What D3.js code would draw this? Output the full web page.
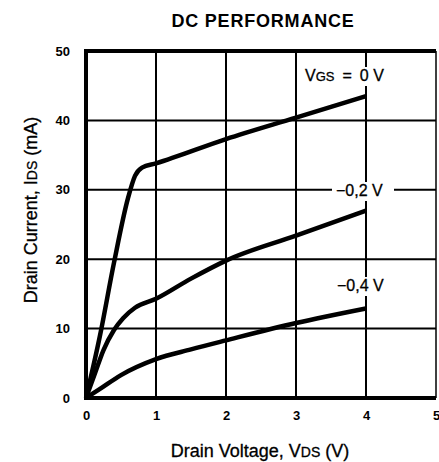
<!DOCTYPE html>
<html>
<head>
<meta charset="utf-8">
<script src="https://cdn.jsdelivr.net/npm/d3@7"></script>
<style>
  body { margin: 0; background: #fff; }
  text { font-family: "Liberation Sans", Arial, sans-serif; fill: #000; }
</style>
</head>
<body>
<div id="chart"></div>
<script>
let width = 439, height = 462;

// curves: [Vds (V), Ids (mA)]
let vgs0 = [[0, 0], [0.2, 9], [0.4, 19.5], [0.6, 28.8], [0.7, 32], [0.8, 33.2], [1, 33.8], [2, 37.3], [3, 40.4], [4, 43.5]];
let vgs02 = [[0, 0], [0.13, 3.6], [0.25, 6.9], [0.4, 9.8], [0.53, 11.5], [0.7, 13], [1, 14.3], [1.5, 17.2], [2, 19.8], [3, 23.4], [4, 27]];
let vgs04 = [[0, 0], [0.2, 1.3], [0.5, 3.3], [1, 5.6], [1.5, 7], [2, 8.3], [3, 10.8], [4, 12.9]];
let xTicks = [0, 1, 2, 3, 4, 5];
let yTicks = [0, 10, 20, 30, 40, 50];

let x = d3.scaleLinear().domain([0, 5]).range([86, 436]);
let y = d3.scaleLinear().domain([0, 50]).range([398, 51]);

let svg = d3.select("#chart").append("svg")
    .attr("width", width).attr("height", height);

// grid
let grid = svg.append("g");
grid.selectAll(".vx").data(xTicks.slice(1, -1)).enter().append("line")
    .attr("x1", d => x(d)).attr("x2", d => x(d))
    .attr("y1", y(50)).attr("y2", y(0))
    .attr("stroke", "#000").attr("stroke-width", 2);
grid.selectAll(".hy").data(yTicks.slice(1, -1)).enter().append("line")
    .attr("x1", x(0)).attr("x2", x(5))
    .attr("y1", d => y(d)).attr("y2", d => y(d))
    .attr("stroke", "#000").attr("stroke-width", 2);

// frame
svg.append("line").attr("x1", x(5)).attr("x2", x(5)).attr("y1", y(50)).attr("y2", y(0))
    .attr("stroke", "#000").attr("stroke-width", 1.5);
svg.append("path")
    .attr("d", `M${x(5)},${y(50)}H${x(0)}V${y(0)}H${x(5)}`)
    .attr("fill", "none").attr("stroke", "#000").attr("stroke-width", 4);

// curve labels (white box hides grid behind them)
function label(tx, ty, parts, bw) {
  let g = svg.append("g");
  g.append("rect").attr("x", tx - 4).attr("y", ty - 14).attr("width", bw).attr("height", 19).attr("fill", "#fff");
  let t = g.append("text").attr("x", tx).attr("y", ty).attr("font-size", 16)
      .attr("stroke", "#000").attr("stroke-width", 0.3);
  parts.forEach(p => t.append("tspan").attr("font-size", p[1]).text(p[0]));
}
label(305, 81, [["V", 16], ["GS", 13], ["\u2002=\u20020 V", 16]], 96);
label(336, 196, [["−0,2 V", 16]], 62);
label(337, 291, [["−0,4 V", 16]], 58);

// curves
let line = d3.line().x(d => x(d[0])).y(d => y(d[1])).curve(d3.curveMonotoneX);
[vgs0, vgs02, vgs04].forEach(s => {
  svg.append("path").datum(s).attr("d", line)
    .attr("fill", "none").attr("stroke", "#000").attr("stroke-width", 4.5)
    .attr("stroke-linejoin", "round");
});

// axes
let xAxis = d3.axisBottom(x).tickValues(xTicks).tickSize(0).tickPadding(13).tickFormat(d3.format("d"));
let yAxis = d3.axisLeft(y).tickValues(yTicks).tickSize(0).tickPadding(16).tickFormat(d3.format("d"));
let gx = svg.append("g").attr("transform", `translate(0,${y(0)})`).call(xAxis);
let gy = svg.append("g").attr("transform", `translate(${x(0)},0)`).call(yAxis);
[gx, gy].forEach(g => {
  g.select(".domain").remove();
  g.selectAll("text").attr("font-family", "Liberation Sans, Arial, sans-serif")
    .attr("font-size", 13).attr("font-weight", "bold");
});

// titles
svg.append("text").attr("x", 263).attr("y", 27).attr("text-anchor", "middle")
    .attr("font-size", 18).attr("font-weight", "bold").attr("letter-spacing", 0.8)
    .text("DC PERFORMANCE");

let xt = svg.append("text").attr("x", 260).attr("y", 457).attr("text-anchor", "middle")
    .attr("font-size", 18).attr("stroke", "#000").attr("stroke-width", 0.3);
xt.append("tspan").text("Drain Voltage, V");
xt.append("tspan").attr("font-size", 14).text("DS");
xt.append("tspan").text(" (V)");

let yt = svg.append("text").attr("transform", "translate(37,210) rotate(-90)")
    .attr("text-anchor", "middle").attr("font-size", 18).attr("stroke", "#000").attr("stroke-width", 0.3);
yt.append("tspan").text("Drain Current, I");
yt.append("tspan").attr("font-size", 14).text("DS");
yt.append("tspan").text(" (mA)");
</script>
</body>
</html>
